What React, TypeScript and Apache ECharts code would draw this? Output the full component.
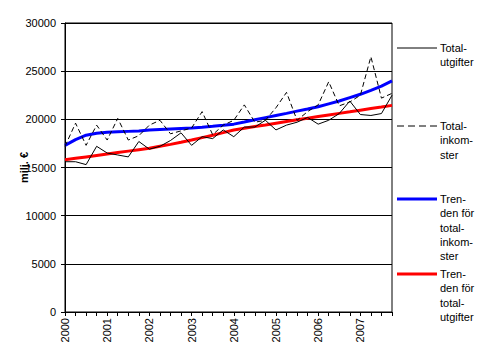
import React, { useEffect, useRef } from "react";
import * as echarts from "echarts";

const years = ["2000", "2001", "2002", "2003", "2004", "2005", "2006", "2007"];
const quarters = ["K1", "K2", "K3", "K4"];
const categories = years.flatMap((y) => quarters.map((q) => `${y} ${q}`));

const totalUtgifter = [
  15600, 15600, 15300, 17200,
  16500, 16300, 16100, 17700,
  16900, 17200, 17800, 18600,
  17300, 18200, 18000, 18900,
  18200, 19200, 19200, 19900,
  18900, 19400, 19700, 20200,
  19500, 19900, 20600, 21900,
  20500, 20400, 20600, 22500,
];

const totalInkomster = [
  17200, 19600, 17300, 19400,
  17850, 20100, 17850, 18300,
  19400, 19900, 18500, 18800,
  19100, 20800, 18400, 19400,
  19900, 21500, 19700, 19900,
  21200, 22800, 19900, 20800,
  21500, 23900, 21400, 21800,
  22500, 26500, 22200, 22700,
];

const trendInkomster = [
  17300, 17900, 18350, 18550,
  18650, 18700, 18750, 18800,
  18900, 18950, 19000, 19050,
  19100, 19180, 19270, 19380,
  19500, 19720, 19950, 20180,
  20400, 20620, 20850, 21070,
  21300, 21600, 21900, 22250,
  22600, 23000, 23450, 24000,
];

const trendUtgifter = [
  15800, 15950, 16100, 16250,
  16400, 16550, 16700, 16850,
  17000, 17200, 17400, 17620,
  17850, 18100, 18350, 18620,
  18900, 19080, 19250, 19420,
  19600, 19780, 19950, 20120,
  20300, 20460, 20620, 20780,
  20950, 21120, 21280, 21450,
];

const yTicks = { min: 0, max: 30000, interval: 5000 };
const yName = "milj. €";

const legendItems = [
  { lines: ["Total-", "utgifter"], color: "#000000", width: 1, dash: null as number[] | null, y: 48 },
  { lines: ["Total-", "inkom-", "ster"], color: "#000000", width: 1, dash: [7, 4], y: 126 },
  { lines: ["Tren-", "den för", "total-", "inkom-", "ster"], color: "#0000FF", width: 3, dash: null, y: 199 },
  { lines: ["Tren-", "den för", "total-", "utgifter"], color: "#FF0000", width: 3, dash: null, y: 274 },
];

const FONT = "'Liberation Sans', Arial, sans-serif";

export default function App() {
  const ref = useRef<HTMLDivElement>(null);
  useEffect(() => {
    if (!ref.current) return;
    const chart = echarts.init(ref.current, undefined, { renderer: "svg" });
    const graphics: any[] = [];
    legendItems.forEach((it) => {
      graphics.push({
        type: "line",
        shape: { x1: 397, y1: it.y, x2: 437, y2: it.y },
        style: { stroke: it.color, lineWidth: it.width, lineDash: it.dash || undefined },
      });
      it.lines.forEach((t, i) => {
        graphics.push({
          type: "text",
          x: 440,
          y: it.y + i * 14.3,
          style: {
            text: t,
            fill: "#000",
            font: `11px ${FONT}`,
            textVerticalAlign: "middle",
            textAlign: "left",
          },
        });
      });
    });
    chart.setOption({
      animation: false,
      backgroundColor: "#ffffff",
      textStyle: { fontFamily: FONT },
      grid: {
        left: 65,
        right: 90,
        top: 23,
        bottom: 41,
        show: true,
        borderColor: "#000",
        borderWidth: 1,
        backgroundColor: "#fff",
        containLabel: false,
      },
      xAxis: {
        type: "category",
        data: categories,
        boundaryGap: false,
        axisLine: { lineStyle: { color: "#000", width: 1 } },
        axisTick: { interval: 0, length: 4, lineStyle: { color: "#000" } },
        axisLabel: {
          interval: 3,
          rotate: 90,
          margin: 6,
          color: "#000",
          fontSize: 11,
          fontFamily: FONT,
          formatter: (v: string) => v.slice(0, 4),
        },
        splitLine: { show: false },
      },
      yAxis: {
        type: "value",
        min: yTicks.min,
        max: yTicks.max,
        interval: yTicks.interval,
        name: yName,
        nameLocation: "middle",
        nameGap: 36,
        nameMoveOverlap: false,
        nameRotate: 90,
        nameTextStyle: { color: "#000", fontSize: 11, fontWeight: "bold", fontFamily: FONT },
        axisLine: { show: true, lineStyle: { color: "#000", width: 1 } },
        axisTick: { show: true, length: 4, lineStyle: { color: "#000" } },
        axisLabel: {
          color: "#000",
          fontSize: 11,
          margin: 9,
          fontFamily: FONT,
          formatter: (v: number) => String(v),
        },
        splitLine: { show: true, lineStyle: { color: "#000", width: 1 } },
      },
      series: [
        {
          name: "Trenden för totalinkomster",
          type: "line",
          data: trendInkomster,
          symbol: "none",
          lineStyle: { color: "#0000FF", width: 3 },
          z: 2,
        },
        {
          name: "Trenden för totalutgifter",
          type: "line",
          data: trendUtgifter,
          symbol: "none",
          lineStyle: { color: "#FF0000", width: 3 },
          z: 2,
        },
        {
          name: "Totalutgifter",
          type: "line",
          data: totalUtgifter,
          symbol: "none",
          lineStyle: { color: "#000", width: 1 },
          z: 3,
        },
        {
          name: "Totalinkomster",
          type: "line",
          data: totalInkomster,
          symbol: "none",
          lineStyle: { color: "#000", width: 1, type: [5, 3] },
          z: 3,
        },
      ],
      graphic: graphics,
    });
    return () => chart.dispose();
  }, []);
  return <div ref={ref} style={{ width: 482, height: 353, position: "absolute", left: 0, top: 0 }} />;
}
